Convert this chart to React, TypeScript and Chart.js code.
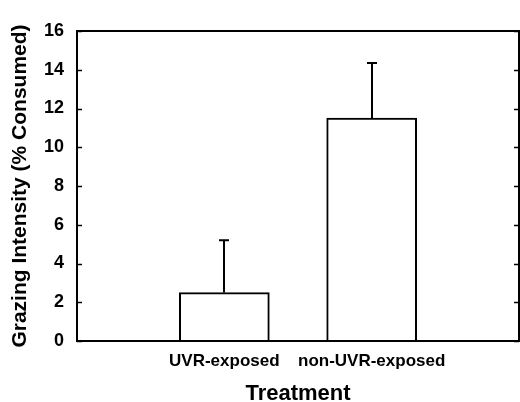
import React, { useEffect, useRef } from "react";
import { Chart, registerables } from "chart.js";

Chart.register(...registerables);

const categories = ["", "UVR-exposed", "non-UVR-exposed", ""];
const means = [null, 2.5, 11.5, null];
const errors = [null, 2.7, 2.85, null];
const yTicks = [0, 2, 4, 6, 8, 10, 12, 14, 16];

const frameAndErrors = {
  id: "frameAndErrors",
  afterDatasetsDraw(chart: any) {
    const { ctx, chartArea, scales } = chart;
    const x = scales.x;
    const y = scales.y;
    ctx.save();
    ctx.strokeStyle = "#000";
    ctx.lineWidth = 2;
    ctx.strokeRect(chartArea.left, chartArea.top, chartArea.right - chartArea.left, chartArea.bottom - chartArea.top);
    ctx.lineWidth = 1.5;
    yTicks.forEach((v) => {
      const py = Math.round(y.getPixelForValue(v)) + 0.5;
      ctx.beginPath();
      ctx.moveTo(chartArea.left, py);
      ctx.lineTo(chartArea.left + 5, py);
      ctx.moveTo(chartArea.right, py);
      ctx.lineTo(chartArea.right - 5, py);
      ctx.stroke();
    });
    ctx.lineWidth = 2;
    means.forEach((m, i) => {
      const e = errors[i];
      if (m == null || e == null) return;
      const px = Math.round(x.getPixelForValue(i));
      const y0 = y.getPixelForValue(m);
      const y1 = y.getPixelForValue(m + e);
      ctx.beginPath();
      ctx.moveTo(px, y0);
      ctx.lineTo(px, y1);
      ctx.moveTo(px - 5, y1);
      ctx.lineTo(px + 5, y1);
      ctx.stroke();
    });
    ctx.restore();
  },
};

export default function App() {
  const ref = useRef<HTMLCanvasElement | null>(null);
  useEffect(() => {
    document.body.style.margin = "0";
    const canvas = ref.current!;
    const chart = new Chart(canvas, {
      type: "bar",
      data: {
        labels: categories,
        datasets: [
          {
            data: means as any,
            backgroundColor: "#ffffff",
            borderColor: "#000000",
            borderWidth: 2,
            borderSkipped: "bottom",
            barThickness: 90,
          },
        ],
      },
      options: {
        responsive: false,
        animation: false,
        layout: { padding: { top: 31, right: 1, left: 0, bottom: 0 } },
        plugins: { legend: { display: false }, tooltip: { enabled: false } },
        scales: {
          x: {
            offset: false,
            grid: { display: false, drawTicks: false },
            border: { display: false },
            afterFit: (s: any) => {
              s.height = 61;
              s.paddingLeft = 0;
              s.paddingRight = 0;
            },
            ticks: {
              color: "#000",
              padding: 10,
              maxRotation: 0,
              autoSkip: false,
              font: { family: "Liberation Sans, Arial", size: 17, weight: "bold" },
            },
            title: {
              display: true,
              text: "Treatment",
              color: "#000",
              font: { family: "Liberation Sans, Arial", size: 22, weight: "bold", lineHeight: 1 },
              padding: { top: 0, bottom: -3 },
            },
          },
          y: {
            min: 0,
            max: 16,
            afterFit: (s: any) => {
              s.width = 77;
            },
            afterBuildTicks: (s: any) => {
              s.ticks = yTicks.map((v) => ({ value: v }));
            },
            grid: { display: false, drawTicks: false },
            border: { display: false },
            ticks: {
              color: "#000",
              padding: 13,
              font: { family: "Liberation Sans, Arial", size: 18, weight: "bold" },
            },
            title: {
              display: true,
              text: "Grazing Intensity (% Consumed)",
              color: "#000",
              font: { family: "Liberation Sans, Arial", size: 21, weight: "bold", lineHeight: 1 },
              padding: { top: 10, bottom: 0 },
            },
          },
        },
      },
      plugins: [frameAndErrors],
    });
    return () => chart.destroy();
  }, []);
  return <canvas ref={ref} width={520} height={402} style={{ display: "block" }} />;
}
